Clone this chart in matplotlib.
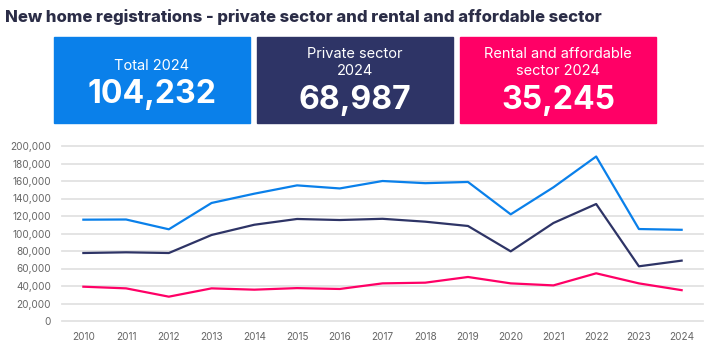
import matplotlib.pyplot as plt
from matplotlib.patches import Rectangle
from matplotlib.ticker import FuncFormatter

plt.rcParams['font.family'] = ['Inter', 'DejaVu Sans']

years = list(range(2010, 2025))
total = [115800, 116000, 104800, 134900, 145500, 155000, 151500, 160000,
         157500, 158900, 121900, 152800, 188000, 105100, 104232]
private = [77700, 78500, 77700, 98300, 110000, 116600, 115400, 116800,
           113500, 108600, 79600, 112000, 133700, 62500, 68987]
rental = [39200, 37300, 27800, 37300, 35800, 37600, 36600, 43000,
          43800, 50300, 43000, 40700, 54500, 43000, 35245]

c_total = '#0a80ea'
c_private = '#2e3466'
c_rental = '#ff0066'

W, H = 717, 359
fig = plt.figure(figsize=(W / 100, H / 100), dpi=100)

fig.text(5 / W, 1 - 17 / H, 'New home registrations - private sector and rental and affordable sector',
         fontsize=12.0, fontweight='heavy', color='#2b2d47', va='center', ha='left')

# summary boxes
boxes = [
    (54, c_total, ['Total 2024'], '104,232'),
    (257, c_private, ['Private sector', '2024'], '68,987'),
    (460, c_rental, ['Rental and affordable', 'sector 2024'], '35,245'),
]
for x0, col, label, num in boxes:
    fig.patches.append(Rectangle((x0 / W, 1 - 123 / H), 196 / W, 86 / H,
                                 transform=fig.transFigure, color=col, zorder=0))
    cx = (x0 + 98) / W
    if len(label) == 1:
        fig.text(cx, 1 - 66 / H, label[0], color='white', fontsize=10.5,
                 ha='center', va='center')
        fig.text(cx, 1 - 95 / H, num, color='white', fontsize=23, fontweight='bold',
                 ha='center', va='center')
    else:
        fig.text(cx, 1 - 54 / H, label[0], color='white', fontsize=10.5,
                 ha='center', va='center')
        fig.text(cx, 1 - 71 / H, label[1], color='white', fontsize=10.5,
                 ha='center', va='center')
        fig.text(cx, 1 - 101 / H, num, color='white', fontsize=23, fontweight='bold',
                 ha='center', va='center')

ax = fig.add_axes([62 / W, 1 - 321 / H, (703 - 62) / W, (321 - 146) / H])
ax.plot(years, total, color=c_total, linewidth=1.6, zorder=3)
ax.plot(years, private, color=c_private, linewidth=1.6, zorder=3)
ax.plot(years, rental, color=c_rental, linewidth=1.6, zorder=3)

ax.set_xlim(2009.5, 2024.5)
ax.set_ylim(0, 200000)
ax.set_yticks(range(0, 200001, 20000))
ax.yaxis.set_major_formatter(FuncFormatter(lambda v, p: f'{int(v):,}'))
ax.set_xticks(years)
ax.grid(axis='y', color='#e2e2e2', linewidth=1.3)
ax.set_axisbelow(True)
for s in ax.spines.values():
    s.set_visible(False)
ax.tick_params(length=0, labelsize=7.2, labelcolor='#666666')
ax.tick_params(axis='x', pad=8)
ax.tick_params(axis='y', pad=8)
for gl in ax.get_ygridlines():
    gl.set_clip_on(False)

fig.savefig('out.png', dpi=100)
